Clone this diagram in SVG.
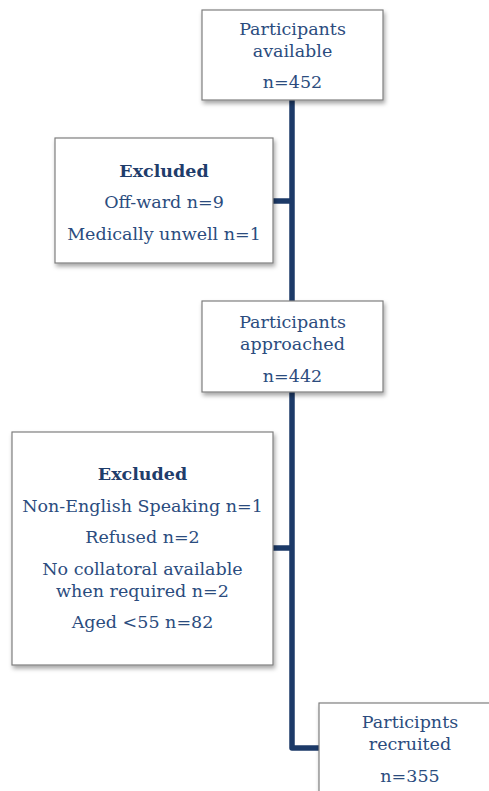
<svg xmlns="http://www.w3.org/2000/svg" width="489" height="791" viewBox="0 0 489 791">
<style>
.box{fill:#ffffff;stroke:#7f7f7f;stroke-width:1.2;filter:url(#sh)}
.t{font-family:"DejaVu Serif","Liberation Serif",serif;font-size:17.5px;fill:#2b4c7e;text-anchor:middle}
.b{font-weight:bold;fill:#1f3d6b}
.conn{fill:none;stroke:#1c3a68;stroke-width:5.5;stroke-linejoin:round}
</style>
<defs>
<filter id="sh" x="-10%" y="-10%" width="130%" height="130%">
<feDropShadow dx="1.5" dy="3" stdDeviation="2" flood-color="#000" flood-opacity="0.35"/>
</filter>
</defs>
<rect width="489" height="791" fill="#ffffff"/>
<g id="connectors">
<path class="conn" d="M292,100 V748 H322"/>
<path class="conn" d="M273,201 H292"/>
<path class="conn" d="M273,548 H292"/>
</g>
<g id="available">
<rect class="box" x="202" y="10" width="181" height="90"/>
<text class="t" x="292.5" y="35">Participants</text>
<text class="t" x="292.5" y="57">available</text>
<text class="t" x="292.5" y="88">n=452</text>
</g>
<g id="excluded1">
<rect class="box" x="55" y="138" width="218" height="125"/>
<text class="t b" x="164" y="177">Excluded</text>
<text class="t" x="164" y="208">Off-ward n=9</text>
<text class="t" x="164" y="240">Medically unwell n=1</text>
</g>
<g id="approached">
<rect class="box" x="202" y="301" width="181" height="91"/>
<text class="t" x="292.5" y="328">Participants</text>
<text class="t" x="292.5" y="350">approached</text>
<text class="t" x="292.5" y="382">n=442</text>
</g>
<g id="excluded2">
<rect class="box" x="12" y="432" width="261" height="233"/>
<text class="t b" x="142.5" y="480">Excluded</text>
<text class="t" x="142.5" y="512">Non-English Speaking n=1</text>
<text class="t" x="142.5" y="543">Refused n=2</text>
<text class="t" x="142.5" y="575">No collatoral available</text>
<text class="t" x="142.5" y="597">when required n=2</text>
<text class="t" x="142.5" y="628">Aged &lt;55 n=82</text>
</g>
<g id="recruited">
<rect class="box" x="319" y="703" width="182" height="100"/>
<text class="t" x="410" y="728">Participnts</text>
<text class="t" x="410" y="750">recruited</text>
<text class="t" x="410" y="782">n=355</text>
</g>
</svg>
